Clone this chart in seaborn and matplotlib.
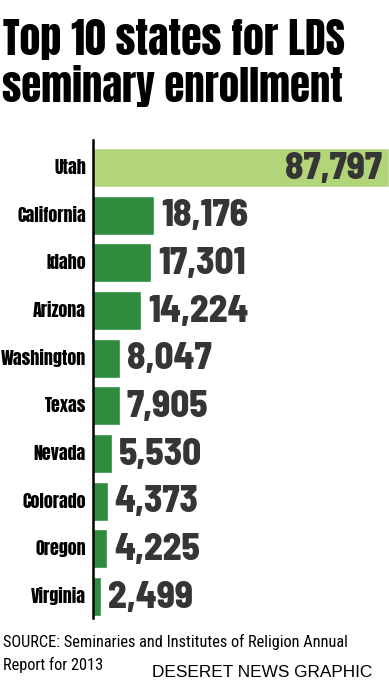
import matplotlib
matplotlib.use("Agg")
import matplotlib.pyplot as plt
import seaborn as sns
import pandas as pd

states = ["Utah", "California", "Idaho", "Arizona", "Washington",
          "Texas", "Nevada", "Colorado", "Oregon", "Virginia"]
enrollment = [87797, 18176, 17301, 14224, 8047, 7905, 5530, 4373, 4225, 2499]
highlight = ["top"] + ["rest"] * 9

df = pd.DataFrame({"state": states, "enrollment": enrollment, "group": highlight})

sns.set_style("white")
plt.rcParams["font.family"] = ["DejaVu Sans"]

W, H = 389, 680
DPI = 100


def fit_width(t, target_px, renderer):
    w = t.get_window_extent(renderer).width
    t.set_fontsize(t.get_fontsize() * target_px / w)


fig = plt.figure(figsize=(W / DPI, H / DPI), dpi=DPI)
renderer = fig.canvas.get_renderer()
ax = fig.add_axes([93 / W, 1 - 618 / H, 296 / W, (618 - 140) / H])

sns.barplot(data=df, y="state", x="enrollment", hue="group", orient="h",
            palette={"top": "#b3d57a", "rest": "#2f8c3e"}, width=0.82,
            dodge=False, legend=False, ax=ax, saturation=1)

ax.set_xlim(0, 87797)
ax.set_ylim(9.451, -0.577)
ax.set_xlabel("")
ax.set_ylabel("")
ax.set_xticks([])
ax.tick_params(axis="y", length=0, labelleft=False)
sns.despine(ax=ax, left=False, bottom=True, top=True, right=True)
ax.spines["left"].set_color("black")
ax.spines["left"].set_linewidth(1.8)

# sizes: fit the widest label and the Utah number to the reference widths
probe = fig.text(0, 0, "Washington", fontsize=12, family="Anton")
fit_width(probe, 85, renderer)
label_size = probe.get_fontsize()
probe.remove()
probe = fig.text(0, 0, "87,797", fontsize=12, family="Barlow Semi Condensed",
                 fontweight=800)
fit_width(probe, 97, renderer)
num_size = probe.get_fontsize()
probe.remove()

for i, (s, v) in enumerate(zip(states, enrollment)):
    ax.annotate(s, xy=(0, i), xycoords=("axes fraction", "data"),
                xytext=(-5.0, -4.6), textcoords="offset points",
                ha="right", va="baseline", fontsize=label_size,
                family="Anton", color="black")
    if i == 0:
        ax.annotate(f"{v:,}", xy=(v, i), xytext=(-5, -8.0),
                    textcoords="offset points", ha="right", va="baseline",
                    fontsize=num_size, family="Barlow Semi Condensed",
                    fontweight=800, color="#353535")
    else:
        ax.annotate(f"{v:,}", xy=(v, i), xytext=(5, -8.0),
                    textcoords="offset points", ha="left", va="baseline",
                    fontsize=num_size, family="Barlow Semi Condensed",
                    fontweight=800, color="#353535")

t1 = fig.text(3 / W, 1 - 55 / H, "Top 10 states for LDS", ha="left",
              va="baseline", fontsize=30, family="Anton", color="black")
t2 = fig.text(2 / W, 1 - 102 / H, "seminary enrollment", ha="left",
              va="baseline", fontsize=30, family="Anton", color="black")
fit_width(t1, 342, renderer)
fit_width(t2, 341, renderer)

s1 = fig.text(3 / W, 1 - 647 / H,
              "SOURCE: Seminaries and Institutes of Religion Annual",
              ha="left", va="baseline", fontsize=12,
              family="Roboto Condensed", color="black")
s2 = fig.text(3 / W, 1 - 670 / H, "Report for 2013", ha="left",
              va="baseline", fontsize=12, family="Roboto Condensed",
              color="black")
fit_width(s1, 347, renderer)
s2.set_fontsize(s1.get_fontsize())

c = fig.text(152 / W, 1 - 677 / H, "DESERET NEWS GRAPHIC", ha="left",
             va="baseline", fontsize=12, family="Liberation Sans",
             color="black")
fit_width(c, 221, renderer)

fig.savefig("out.png", dpi=DPI)
